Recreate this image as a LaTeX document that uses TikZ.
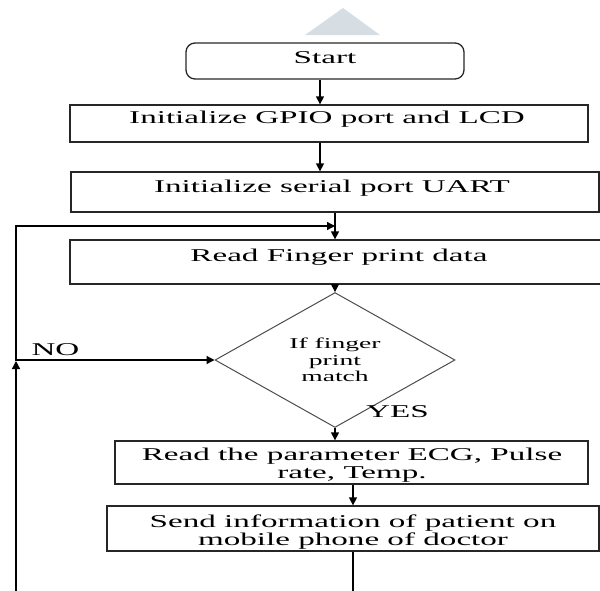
\documentclass[tikz,border=0pt]{standalone}
\usepackage{fontspec}
\setmainfont{Liberation Serif}
\newfontfamily\wideserif[FakeStretch=1.84]{Liberation Serif}
\usetikzlibrary{shapes.geometric,arrows.meta}
\definecolor{wmgray}{RGB}{214,222,228}
\begin{document}
\begin{tikzpicture}[x=1pt,y=-1pt,
  box/.style={draw=black!85,line width=1.3pt,inner sep=0pt,rectangle},
  txt/.style={font=\wideserif\fontsize{18}{18}\selectfont,inner sep=0pt,align=center},
  smalltxt/.style={font=\wideserif\fontsize{15}{16.5}\selectfont,align=center},
  arr/.style={-{Triangle[length=8pt,width=8pt]},line width=1.3pt},
  plain/.style={line width=1.3pt}]
\useasboundingbox (0,0) rectangle (600,590);
% watermark triangle
\fill[wmgray] (305,35) -- (343,8) -- (380,35) -- cycle;
% boxes
\node[box,rounded corners=9pt,minimum width=278pt,minimum height=36pt] (start) at (325,61) {};
\node[txt,anchor=base] (tstart) at (325,63) {Start};
\node[box,minimum width=518pt,minimum height=37pt] (gpio) at (329,123.5) {};
\node[txt,anchor=base] (tgpio) at (327,123) {Initialize GPIO port and LCD};
\node[box,minimum width=528pt,minimum height=40pt] (uart) at (335,192) {};
\node[txt,anchor=base] (tuart) at (332,192) {Initialize serial port UART};
\node[box,minimum width=540pt,minimum height=44pt] (read) at (340,262) {};
\node[txt,anchor=base] (tread) at (339,261) {Read Finger print data};
\node[draw=black!70,line width=1pt,diamond,minimum width=240pt,minimum height=106pt,inner sep=0pt,smalltxt] (dec) at (335,360) {If finger\\print\\match};
\node[box,minimum width=473pt,minimum height=43pt] (params) at (351.5,462.5) {};
\node[txt] (tparams) at (352,465) {Read the parameter ECG, Pulse\\rate, Temp.};
\node[box,minimum width=492pt,minimum height=45pt] (send) at (353,528.5) {};
\node[txt] (tsend) at (353,532) {Send information of patient on\\mobile phone of doctor};
% labels
\node[txt,anchor=base] (no) at (55.5,355) {NO};
\node[txt,anchor=base] (yes) at (397.5,417) {YES};
% coordinates
\coordinate (bot) at (353,600);
\coordinate (lb) at (16,600);
\coordinate (lj) at (16,361);
\coordinate (lt) at (16,226);
% connectors
\draw[arr] ([xshift=-5pt]start.south) -- ([xshift=-5pt]start.south |- gpio.north);
\draw[arr] ([xshift=-9pt]gpio.south) -- ([xshift=-9pt]gpio.south |- uart.north);
\draw[arr] (uart.south -| dec.north) -- (read.north -| dec.north);
\draw[arr] (read.south -| dec.north) -- (dec.north);
\draw[arr] (dec.south) -- (dec.south |- params.north);
\draw[arr] (params.south -| send.north) -- (send.north);
\draw[plain] (send.south) -- (bot);
\draw[arr] (lb) -- (lj);
\draw[arr] (lj) -- (lt) -- (lt -| dec.north);
\draw[arr] (dec.west -| lj) -- (dec.west);
\end{tikzpicture}
\end{document}
